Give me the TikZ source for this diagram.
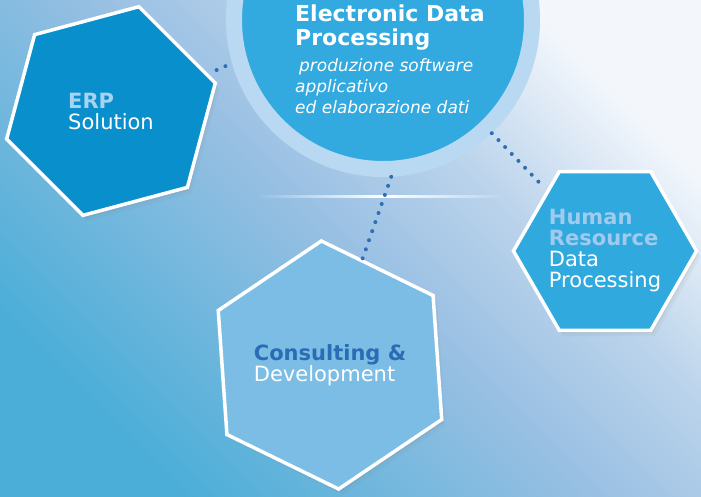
\documentclass[tikz,border=0pt]{standalone}
\usepackage{fontspec}
\setmainfont{DejaVu Sans}
\usetikzlibrary{positioning,shapes.geometric,shadows}

\definecolor{bglow}{HTML}{4AAED8}
\definecolor{bgmid}{HTML}{99C0E3}
\definecolor{bgpale}{HTML}{BCD4EC}
\definecolor{bghigh}{HTML}{F3F7FC}
\definecolor{erpblue}{HTML}{0A8FCD}
\definecolor{cdblue}{HTML}{7BBDE5}
\definecolor{hrblue}{HTML}{30A9DE}
\definecolor{edpblue}{HTML}{32AADF}
\definecolor{ringblue}{HTML}{B8D9F1}
\definecolor{dotblue}{HTML}{2F6DB5}
\definecolor{erplabel}{HTML}{A8D3F0}
\definecolor{hrlabel}{HTML}{A0CBEE}
\definecolor{cdlabel}{HTML}{2A6DB5}

\pgfdeclareverticalshading{bgshade}{100bp}{color(0bp)=(bglow);
    color(25bp)=(bglow); color(50bp)=(bgmid); color(62bp)=(bgpale);
    color(75bp)=(bghigh); color(100bp)=(bghigh)}

\begin{document}
\begin{tikzpicture}[
    x=1pt, y=-1pt,
    every node/.style={inner sep=0},
    hexagon/.style={regular polygon, regular polygon sides=6, draw=white,
        line width=3.5pt, text=white, align=left,
        font=\fontsize{21}{21}\selectfont,
        drop shadow={opacity=.12, shadow xshift=2pt, shadow yshift=-3pt},
        drop shadow={opacity=.08, shadow xshift=4pt, shadow yshift=-6pt}},
    dotlink/.style={draw=dotblue, line width=4pt, line cap=round,
        dash pattern=on 0pt off 9.6pt}
]
\useasboundingbox (0,0) rectangle (701,496);
\clip (0,0) rectangle (701,496);
\shade[shading=bgshade, shading angle=-45] (0,0) rectangle (701,496);

% central circle
\node[circle, minimum size=298pt, draw=ringblue, line width=16pt,
    fill=edpblue,
    drop shadow={opacity=.10, shadow xshift=3pt, shadow yshift=-4pt}]
    (edp) at (383,20) {};
\node[anchor=north west, align=left, text=white,
    font=\bfseries\fontsize{22}{24}\selectfont]
    (edptitle) at (295,4.3) {Electronic Data\\Processing};
\node[below right=8pt and 0pt of edptitle.south west, align=left,
    text=white, font=\itshape\fontsize{17}{21}\selectfont]
    (edpsub) {\hspace*{4pt}produzione software\\applicativo\\ed elaborazione dati};

% hexagons
\node[hexagon, minimum size=216pt, shape border rotate=15, fill=erpblue]
    (erp) at (111,111) {\textbf{\textcolor{erplabel}{ERP}}\\Solution};
\node[hexagon, minimum size=238pt, shape border rotate=34, fill=cdblue]
    (cd) at (330,365) {\textbf{\textcolor{cdlabel}{Consulting \&}}\\Development};
\node[hexagon, minimum size=178pt, fill=hrblue]
    (hr) at (605,251) {\textbf{\textcolor{hrlabel}{Human}}\\
    \textbf{\textcolor{hrlabel}{Resource}}\\Data\\Processing};

% divider
\shade[left color=bgmid, right color=bgpale, middle color=white]
    (260,195) rectangle (505,197.5);

% dotted links
\draw[dotlink, shorten <=9pt] (erp.21) -- (edp.196);
\draw[dotlink, shorten >=6pt] (edp) -- (hr);
\draw[dotlink] (edp.-87) -- (cd.73);
\end{tikzpicture}
\end{document}
